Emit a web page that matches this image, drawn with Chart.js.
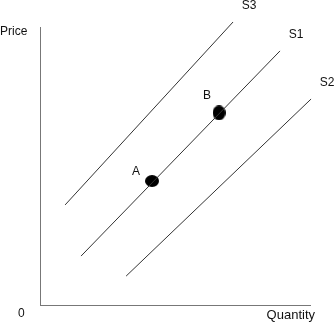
<!DOCTYPE html>
<html><head><meta charset="utf-8">
<script src="https://cdn.jsdelivr.net/npm/chart.js@4/dist/chart.umd.min.js"></script>
<style>html,body{margin:0;padding:0;background:#fff}#wrap{width:336px;height:322px}</style>
</head><body><div id="wrap"><canvas id="c" width="336" height="322"></canvas></div>
<script>
// Supply curves (start and end points, in Quantity/Price units 0-100)
const curveNames = ['S3', 'S1', 'S2'];
const s3 = [{x: 9.3, y: 36.0}, {x: 71.5, y: 101.8}];
const s1 = [{x: 15.2, y: 17.6}, {x: 88.9, y: 91.4}];
const s2 = [{x: 31.9, y: 10.4}, {x: 100.4, y: 74.1}];
// Equilibrium points
const pointNames = ['A', 'B'];
const pointQty = [41.5, 66.3];
const pointPrice = [44.6, 69.1];
const axisLabels = {x: 'Quantity', y: 'Price', origin: '0'};

const FONT = '12px "Liberation Sans", Arial, sans-serif';
const curves = [s3, s1, s2];

function ellipse(w, h) {
  const cv = document.createElement('canvas');
  cv.width = w; cv.height = h;
  const c = cv.getContext('2d');
  c.fillStyle = '#000';
  c.beginPath();
  c.ellipse(w / 2, h / 2, w / 2, h / 2, 0, 0, Math.PI * 2);
  c.fill();
  return cv;
}

const labelsPlugin = {
  id: 'labels',
  afterDraw(chart) {
    const {ctx, scales: {x, y}, chartArea} = chart;
    ctx.save();
    ctx.font = FONT;
    ctx.fillStyle = '#111';
    ctx.textBaseline = 'middle';
    ctx.textAlign = 'center';
    curves.forEach((c, i) => {
      const end = c[1];
      ctx.fillText(curveNames[i], x.getPixelForValue(end.x) + 16, y.getPixelForValue(end.y) - 16);
    });
    const offs = [[-16, -9], [-12, -17]];
    pointNames.forEach((n, i) => {
      ctx.fillText(n, x.getPixelForValue(pointQty[i]) + offs[i][0], y.getPixelForValue(pointPrice[i]) + offs[i][1]);
    });
    ctx.textAlign = 'left';
    ctx.fillText(axisLabels.y, 0, chartArea.top + 5);
    ctx.fillText(axisLabels.origin, chartArea.left - 22, chartArea.bottom + 9);
    ctx.textAlign = 'right';
    ctx.font = '13px "Liberation Sans", Arial, sans-serif';
    ctx.fillText(axisLabels.x, chartArea.right + 5, chartArea.bottom + 10);
    ctx.restore();
  }
};

const lineDs = curves.map((c, i) => ({
  type: 'line', label: curveNames[i], data: c,
  borderColor: '#333', borderWidth: 1, pointRadius: 0, fill: false, clip: false
}));

new Chart(document.getElementById('c'), {
  type: 'scatter',
  data: {
    datasets: [...lineDs, {
      type: 'scatter', label: 'points',
      data: pointQty.map((q, i) => ({x: q, y: pointPrice[i]})),
      pointStyle: [ellipse(14, 12), ellipse(13, 15)],
      backgroundColor: '#000', borderColor: '#000', pointRadius: 7, clip: false
    }]
  },
  options: {
    responsive: false, animation: false,
    layout: {padding: {left: 40, right: 26, top: 27, bottom: 17}},
    plugins: {legend: {display: false}, tooltip: {enabled: false}},
    scales: {
      x: {type: 'linear', min: 0, max: 100,
          ticks: {display: false}, grid: {display: false, drawTicks: false},
          border: {display: true, color: '#777', width: 1}},
      y: {type: 'linear', min: 0, max: 100,
          ticks: {display: false}, grid: {display: false, drawTicks: false},
          border: {display: true, color: '#777', width: 1}}
    }
  },
  plugins: [labelsPlugin]
});
</script></body></html>
